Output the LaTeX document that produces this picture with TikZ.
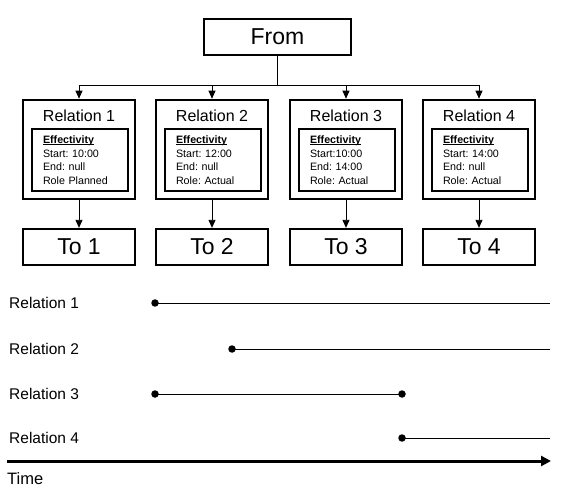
\documentclass[tikz,border=0pt]{standalone}
\usepackage{fontspec}
\setmainfont{Liberation Sans}
\usetikzlibrary{arrows.meta}
\frenchspacing
\newcommand\myul[1]{\setbox0\hbox{#1}\rlap{\rule[-1.6pt]{\wd0}{0.9pt}}\box0}
\begin{document}
\begin{tikzpicture}[x=1pt,y=-1pt,
  bigbox/.style={draw,line width=2.6pt,minimum width=147pt,minimum height=36pt,inner sep=0pt,font=\fontsize{23}{26}\selectfont},
  tobox/.style={draw,line width=2.3pt,minimum width=112pt,minimum height=36pt,inner sep=0pt,font=\fontsize{23}{26}\selectfont},
  relbox/.style={draw,line width=2.6pt,minimum width=112pt,minimum height=99pt,inner sep=0pt},
  effbox/.style={draw,line width=2.6pt,text width=74pt,inner xsep=11pt,inner ysep=0pt,minimum height=62pt,align=left,font=\fontsize{10.7}{13.5}\selectfont\frenchspacing},
  rellabel/.style={font=\fontsize{16}{18}\selectfont,inner sep=0pt},
  tlabel/.style={font=\fontsize{15.5}{18}\selectfont,inner sep=0pt,anchor=west},
  conn/.style={line width=0.9pt,-{Triangle[length=8pt,width=7pt]}},
  tline/.style={line width=0.9pt},
  dot/.style={circle,fill,inner sep=0pt,minimum size=7.5pt}
]
\useasboundingbox (0,0) rectangle (568,497);
% top structure
\node[bigbox] (from) at (277.5,37) {From};
\coordinate (bus) at (277.5,85);
\foreach \i/\x/\s/\e/\r in {1/79/Start: 10:00/End: null/Role Planned,2/212/Start: 12:00/End: null/Role: Actual,3/346/Start:10:00/End: 14:00/Role: Actual,4/479/Start: 14:00/End: null/Role: Actual}{
  \node[relbox] (r\i) at (\x,149.5) {};
  \node[rellabel] (rl\i) at (\x,116) {Relation \i};
  \node[effbox] (e\i) at (\x+1,160) {\textbf{\myul{Effectivity}}\\\s\\\e\\\r};
  \node[tobox] (t\i) at (\x,247) {To \i};
  \draw[conn] (bus) -| (r\i.north);
  \draw[conn] (r\i.south) -- (t\i.north);
}
\draw[line width=0.9pt] (from.south) -- (bus);
% timeline
\node[tlabel] (l1) at (9,303) {Relation 1};
\node[tlabel] (l2) at (9,349) {Relation 2};
\node[tlabel] (l3) at (9,394) {Relation 3};
\node[tlabel] (l4) at (9,438) {Relation 4};
\node[dot] (d1) at (155,303) {};
\coordinate (f1) at (550,303);
\node[dot] (d2) at (232,349) {};
\coordinate (f2) at (550,349);
\node[dot] (d3a) at (155,394) {};
\node[dot] (d3b) at (402,394) {};
\node[dot] (d4) at (402,438) {};
\coordinate (f4) at (550,438);
\draw[tline] (d1.center) -- (f1);
\draw[tline] (d2.center) -- (f2);
\draw[tline] (d3a.center) -- (d3b.center);
\draw[tline] (d4.center) -- (f4);
\coordinate (ts) at (7,461);
\coordinate (te) at (551,461);
\draw[line width=3pt,-{Triangle[length=10pt,width=10pt]}] (ts) -- (te);
\node[tlabel,font=\fontsize{16.5}{18}\selectfont] (time) at (7,479) {Time};
\end{tikzpicture}
\end{document}
